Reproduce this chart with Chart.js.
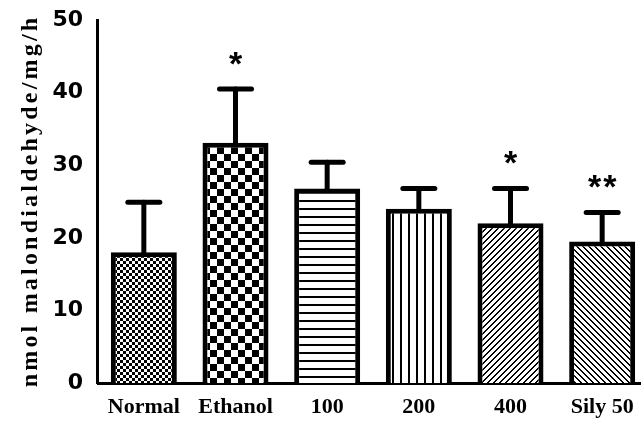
<!DOCTYPE html>
<html><head><meta charset="utf-8">
<script src="https://cdn.jsdelivr.net/npm/chart.js@4/dist/chart.umd.min.js"></script>
<style>html,body{margin:0;padding:0;background:#fff;}#wrap{width:641px;height:425px;}</style>
</head><body><div id="wrap"><canvas id="c" width="641" height="425"></canvas></div>
<script>
const categories = ["Normal", "Ethanol", "100", "200", "400", "Sily 50"];
const means = [18.0, 33.1, 26.8, 24.0, 22.0, 19.5];
const sds = [6.9, 7.4, 3.6, 2.8, 4.8, 4.0];
const stars = ["", "*", "", "", "*", "**"];
const yTicks = [0, 10, 20, 30, 40, 50];
const yTitle = "nmol malondialdehyde/mg/h";

function mk(size, draw) {
  const c = document.createElement('canvas');
  c.width = size; c.height = size;
  const g = c.getContext('2d');
  g.fillStyle = '#fff'; g.fillRect(0, 0, size, size);
  g.fillStyle = '#000';
  draw(g, size);
  return document.getElementById('c').getContext('2d').createPattern(c, 'repeat');
}
const patterns = [
  mk(6, (g) => { g.fillRect(0,0,3,3); g.fillRect(3,3,3,3); }),
  mk(14, (g) => { g.fillRect(0,0,7,7); g.fillRect(7,7,7,7); }),
  mk(8, (g) => { g.fillRect(0,0,8,2); }),
  mk(8, (g) => { g.fillRect(0,0,2,8); }),
  mk(6, (g) => { for (let i=0;i<6;i++){ const x=(5-i); g.fillRect(x,i,2,1); if (x+2>6) g.fillRect(0,i,x+2-6,1);} }),
  mk(6, (g) => { for (let i=0;i<6;i++){ g.fillRect(i,i,2,1); if(i==5) g.fillRect(0,5,1,1);} })
];

const layoutPlugin = {
  id: 'xspan',
  afterLayout(chart) {
    const x = chart.scales.x;
    x.left = 98; x.right = 648; x.width = x.right - x.left;
    x.configure();
  }
};

const errPlugin = {
  id: 'err',
  afterDatasetsDraw(chart) {
    const ctx = chart.ctx, x = chart.scales.x, y = chart.scales.y;
    ctx.save();
    means.forEach((m, i) => {
      const px = x.getPixelForValue(i);
      const top = y.getPixelForValue(m + sds[i]);
      const base = y.getPixelForValue(m);
      ctx.strokeStyle = '#000'; ctx.lineCap = 'round';
      ctx.lineWidth = 5;
      ctx.beginPath(); ctx.moveTo(px, base); ctx.lineTo(px, top); ctx.stroke();
      ctx.beginPath(); ctx.moveTo(px - 16, top); ctx.lineTo(px + 16, top); ctx.stroke();
      if (stars[i]) {
        ctx.fillStyle = '#000';
        ctx.font = 'bold 34px "Liberation Sans"';
        ctx.letterSpacing = '2px';
        ctx.textAlign = 'center'; ctx.textBaseline = 'alphabetic';
        ctx.fillText(stars[i], px + 1, top - 14);
      }
    });
    // y axis title
    ctx.translate(37, 201);
    ctx.rotate(-Math.PI / 2);
    ctx.fillStyle = '#000';
    ctx.font = 'bold 24px "Liberation Serif"';
    ctx.letterSpacing = '3.2px';
    ctx.textAlign = 'center'; ctx.textBaseline = 'alphabetic';
    ctx.fillText(yTitle, 0, 0);
    ctx.restore();
  }
};

new Chart(document.getElementById('c'), {
  type: 'bar',
  data: {
    labels: categories,
    datasets: [{
      data: means,
      backgroundColor: patterns,
      borderColor: '#000',
      borderWidth: 5,
      borderSkipped: 'start',
      barPercentage: 0.8,
      categoryPercentage: 0.9
    }]
  },
  options: {
    responsive: false,
    animation: false,
    layout: { padding: { top: 20, right: 0, left: 0, bottom: 0 } },
    plugins: { legend: { display: false }, tooltip: { enabled: false } },
    scales: {
      x: {
        grid: { display: false, drawTicks: true, tickLength: 10, tickWidth: 3, tickColor: '#000' },
        border: { color: '#000', width: 3 },
        ticks: { color: '#000', font: { family: '"Liberation Serif"', weight: 'bold', size: 22 }, padding: 1, maxRotation: 0, autoSkip: false },
        afterFit(s) { s.height = 42; }
      },
      y: {
        min: 0, max: 50,
        afterBuildTicks(s) { s.ticks = yTicks.map(v => ({ value: v })); },
        grid: { display: false, drawTicks: true, tickLength: 11, tickWidth: 3, tickColor: '#000' },
        border: { color: '#000', width: 3 },
        ticks: { color: '#000', font: { family: '"DejaVu Sans"', weight: 'bold', size: 22 }, padding: 3 },
        title: { display: false },
        afterFit(s) { s.width = 97; }
      }
    }
  },
  plugins: [layoutPlugin, errPlugin]
});
</script>
</body></html>
